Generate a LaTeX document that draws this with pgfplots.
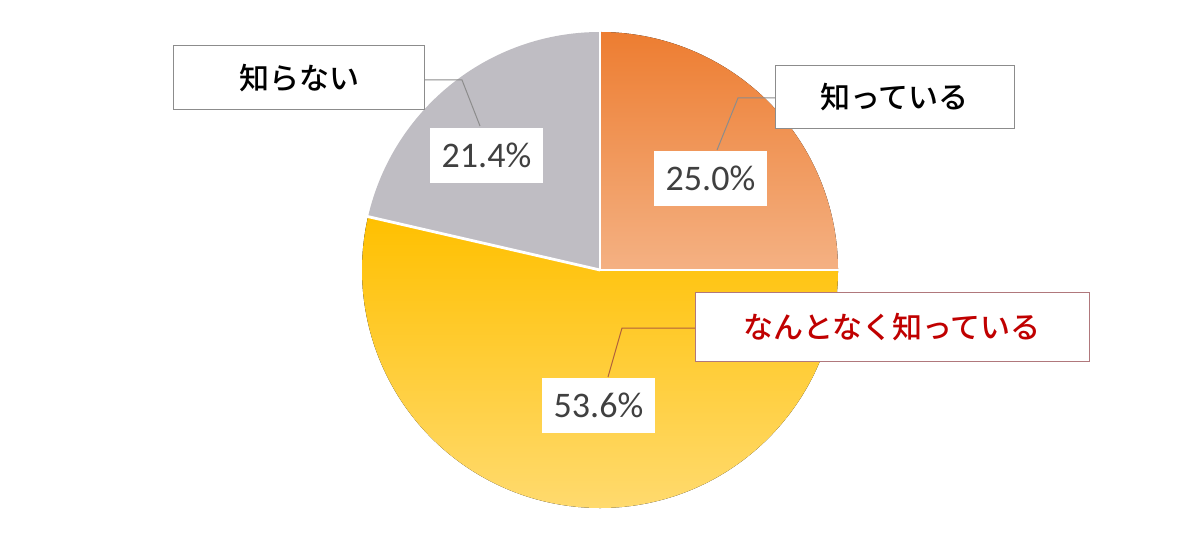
\documentclass[border=0pt]{standalone}
\usepackage{pgfplots}
\usepackage{pgfplotstable}
\pgfplotsset{compat=1.18}
\usepackage{fontspec}
\setmainfont{Carlito}
\newfontfamily\jp{Noto Sans CJK JP}[BoldFont={Noto Sans CJK JP Medium}]

\definecolor{orTop}{HTML}{ED7D31}
\definecolor{orBot}{HTML}{F4B183}
\definecolor{yeTop}{HTML}{FFC000}
\definecolor{yeBot}{HTML}{FFDA6E}
\definecolor{grSl}{HTML}{BFBDC3}
\definecolor{valtxt}{HTML}{404040}
\definecolor{lead}{HTML}{8C8C8C}
\definecolor{darkred}{HTML}{C00000}
\definecolor{redbox}{HTML}{B0787C}
\definecolor{redlead}{HTML}{B0603C}

% share of each answer, in percent
\pgfplotstableread{
label value
shitteiru 25.0
nantonaku 53.6
shiranai 21.4
}\piedata

\begin{document}
\begin{tikzpicture}
% slice angles, clockwise from the top
\pgfplotstablegetelem{0}{value}\of\piedata \let\va\pgfplotsretval
\pgfplotstablegetelem{1}{value}\of\piedata \let\vb\pgfplotsretval
\pgfplotstablegetelem{2}{value}\of\piedata \let\vc\pgfplotsretval
\pgfmathsetmacro\aA{90}
\pgfmathsetmacro\aB{\aA-3.6*\va}
\pgfmathsetmacro\aC{\aB-3.6*\vb}
\pgfmathsetmacro\aD{\aC-3.6*\vc}
\begin{axis}[
    x=0.5bp, y=0.5bp,
    xmin=0, xmax=1200, ymin=0, ymax=540,
    y dir=reverse,
    hide axis,
    clip=false,
]
\path (axis cs:0,0) rectangle (axis cs:1200,540);
% wedges
\fill[top color=orTop, bottom color=orBot]
  (axis cs:600,270) -- ++(\aA:119bp) arc[start angle=\aA, end angle=\aB, radius=119bp] -- cycle;
\fill[top color=yeTop, bottom color=yeBot]
  (axis cs:600,270) -- ++(\aB:119bp) arc[start angle=\aB, end angle=\aC, radius=119bp] -- cycle;
\fill[grSl]
  (axis cs:600,270) -- ++(\aC:119bp) arc[start angle=\aC, end angle=\aD, radius=119bp] -- cycle;
\draw[white, line width=1.4bp] (axis cs:600,270) -- ++(\aA:119.5bp);
\draw[white, line width=1.4bp] (axis cs:600,270) -- ++(\aB:119.5bp);
\draw[white, line width=1.4bp] (axis cs:600,270) -- ++(\aC:119.5bp);

% leader lines
\draw[lead, line width=0.5bp] (axis cs:424,80) -- (axis cs:462,80) -- (axis cs:480,126);
\draw[lead, line width=0.5bp] (axis cs:775,98) -- (axis cs:738,98) -- (axis cs:717,150);
\draw[redlead, line width=0.5bp] (axis cs:695,328) -- (axis cs:622,328) -- (axis cs:608,377);

% category labels
\node[draw=lead, line width=0.5bp, fill=white, minimum width=125bp, minimum height=32bp, inner sep=0pt,
  font=\jp\bfseries\fontsize{15bp}{18bp}\selectfont] at (axis cs:299,78) {知らない};
\node[draw=lead, line width=0.5bp, fill=white, minimum width=119.5bp, minimum height=31.5bp, inner sep=0pt,
  font=\jp\bfseries\fontsize{15bp}{18bp}\selectfont] at (axis cs:894.5,97.5) {知っている};
\node[draw=redbox, line width=0.5bp, fill=white, minimum width=197bp, minimum height=34bp, inner sep=0pt,
  text=darkred, font=\jp\bfseries\fontsize{15bp}{18bp}\selectfont] at (axis cs:892,327) {なんとなく知っている};

% value labels
\pgfkeys{/pgf/number format/.cd, fixed, fixed zerofill, precision=1, assume math mode=true}
\node[fill=white, minimum width=56.5bp, minimum height=27.5bp, inner sep=0pt, text=valtxt,
  font=\fontsize{18bp}{21bp}\selectfont] at (axis cs:486.5,155.5) {\pgfmathprintnumber{\vc}\%};
\node[fill=white, minimum width=56.5bp, minimum height=27.5bp, inner sep=0pt, text=valtxt,
  font=\fontsize{18bp}{21bp}\selectfont] at (axis cs:710.5,178.5) {\pgfmathprintnumber{\va}\%};
\node[fill=white, minimum width=56.5bp, minimum height=27.5bp, inner sep=0pt, text=valtxt,
  font=\fontsize{18bp}{21bp}\selectfont] at (axis cs:598.5,405.5) {\pgfmathprintnumber{\vb}\%};
\end{axis}
\end{tikzpicture}
\end{document}
